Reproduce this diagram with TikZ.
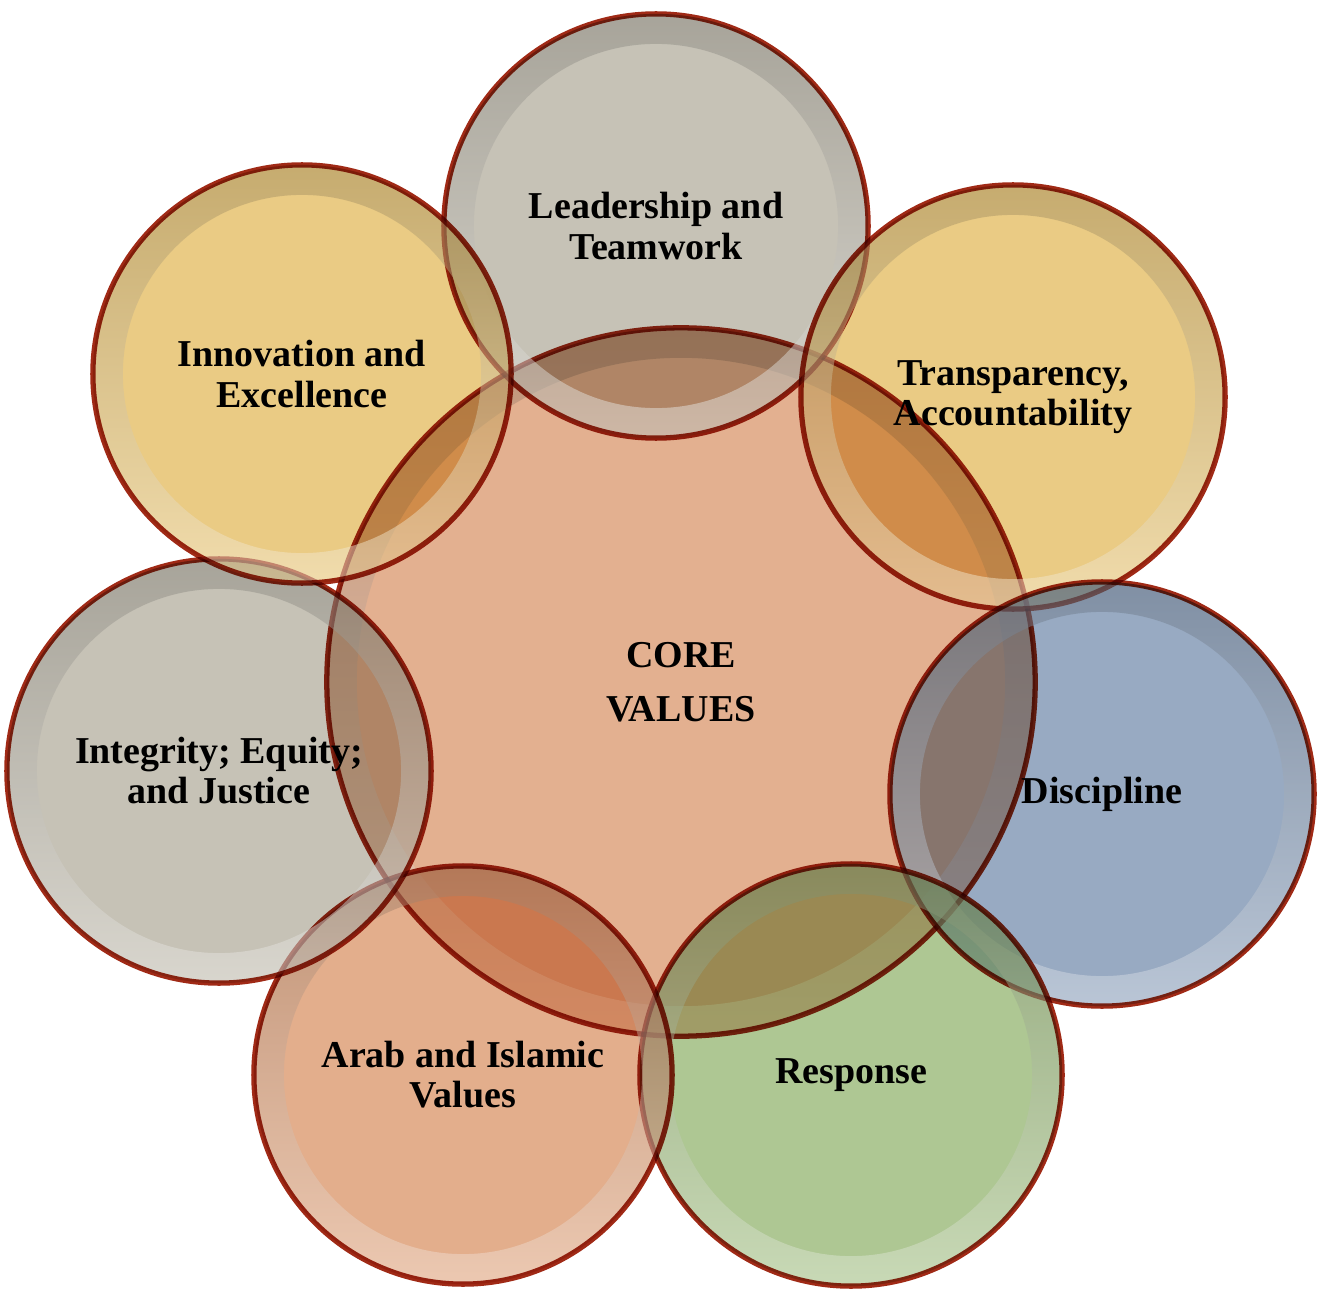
\documentclass[tikz,border=0pt]{standalone}
\usepackage{fontspec}
\setmainfont{Liberation Serif}
\usepackage{xcolor}
\usepackage{tikz}

\definecolor{rimred}{RGB}{160,42,22}
\definecolor{greyfill}{RGB}{198,194,182}
\definecolor{goldfill}{RGB}{234,203,132}
\definecolor{bluefill}{RGB}{152,170,194}
\definecolor{greenfill}{RGB}{174,199,147}
\definecolor{peachfill}{RGB}{227,174,140}
\definecolor{corefill}{RGB}{227,176,144}

\tikzset{
	bubble/.style 2 args={circle, minimum size=2*#2, inner sep=0pt, draw=rimred, line width=1.5pt,
		fill=#1, blend mode=multiply, align=center,
		font=\bfseries\fontsize{10.8}{11.4}\selectfont,
		path picture={
			\begin{scope}[blend mode=normal, even odd rule]
				\clip (path picture bounding box.center) circle (#2+1cm)
				(path picture bounding box.center) circle (#2-0.3cm);
				% glassy rim: shadow on top, light below
				\shade[top color=#1!70!black, middle color=#1!50!white, bottom color=#1!35!white, opacity=0.5]
				([xshift=-#2,yshift=#2]path picture bounding box.center) rectangle
				([xshift=#2,yshift=-#2]path picture bounding box.center);
			\end{scope}}},
}

\begin{document}
\begin{tikzpicture}[x=0.01cm,y=-0.01cm]
	\useasboundingbox (0,0) rectangle (1327,1291);
	% centre
	\node[bubble={corefill}{3.54cm}] (core) at (681,682) {CORE\\[4pt]VALUES};
	% ring of values
	\node[bubble={greyfill}{2.12cm}] (lead) at (656,226) {Leadership and\\Teamwork};
	\node[bubble={goldfill}{2.12cm}] (trans) at (1013,397) {Transparency,\\Accountability};
	\node[bubble={bluefill}{2.12cm}] (disc) at (1102,794) {Discipline};
	\node[bubble={greenfill}{2.11cm}] (resp) at (851,1075) {Response};
	\node[bubble={peachfill}{2.09cm}] (arab) at (463,1075) {Arab and Islamic\\Values};
	\node[bubble={greyfill}{2.12cm}] (integ) at (219,771) {Integrity; Equity;\\and Justice};
	\node[bubble={goldfill}{2.09cm}] (innov) at (302,374) {Innovation and\\Excellence};
\end{tikzpicture}
\end{document}
